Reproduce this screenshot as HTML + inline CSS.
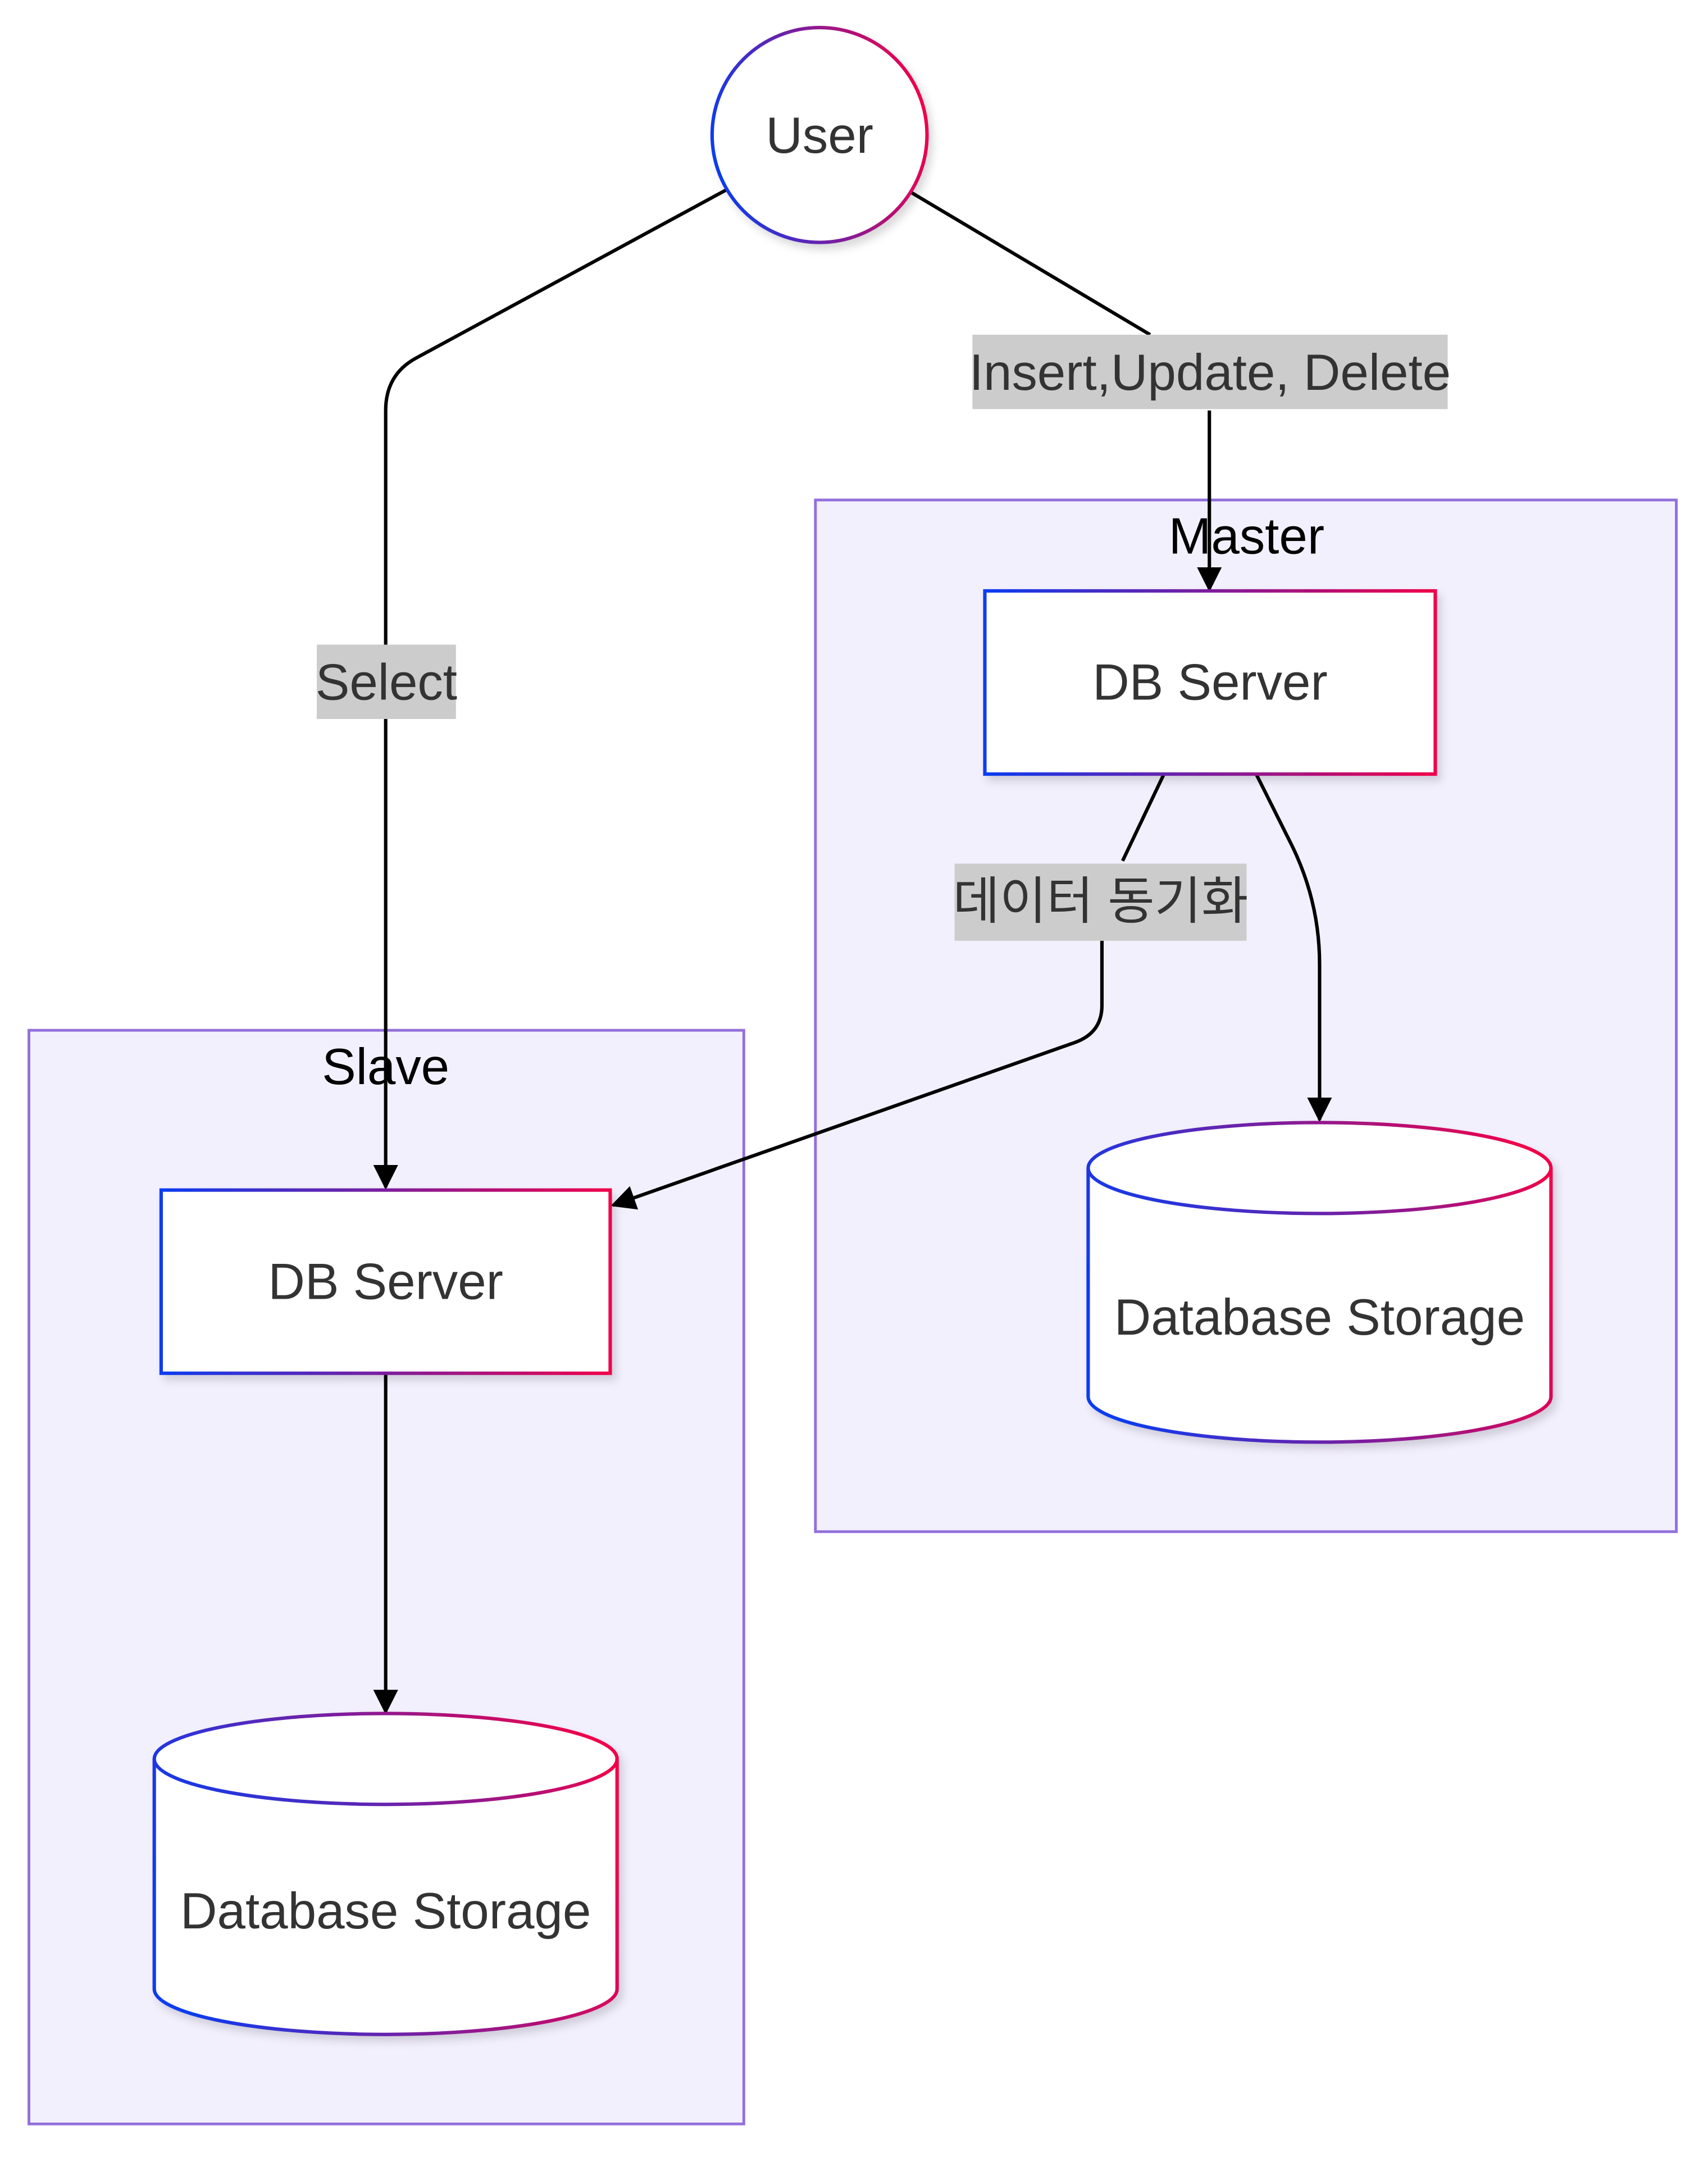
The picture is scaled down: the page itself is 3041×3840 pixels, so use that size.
<!DOCTYPE html>
<html><head><meta charset="utf-8"><style>
html,body{margin:0;padding:0;background:#fff;}
svg{display:block;}
text{font-family:"Liberation Sans","Noto Sans CJK KR",sans-serif;fill:#333;}
</style></head><body>
<svg width="3041" height="3840" viewBox="0 0 1240 1566" preserveAspectRatio="none" xmlns="http://www.w3.org/2000/svg">
<defs>
<linearGradient id="g" x1="0" y1="0.6" x2="1" y2="0.4">
<stop offset="0" stop-color="#0a3cf0"/><stop offset="1" stop-color="#f0004a"/>
</linearGradient>
<linearGradient id="gh" x1="0" y1="0" x2="1" y2="0">
<stop offset="0" stop-color="#0a3cf0"/><stop offset="1" stop-color="#f0004a"/>
</linearGradient>
<marker id="a" viewBox="0 0 10 10" refX="9" refY="5" markerWidth="18" markerHeight="18" markerUnits="userSpaceOnUse" orient="auto">
<path d="M0,0 L10,5 L0,10 z" fill="#000"/>
</marker>
<filter id="sh" x="-20%" y="-20%" width="140%" height="140%"><feDropShadow dx="3" dy="4" stdDeviation="3" flood-color="#000" flood-opacity="0.15"/></filter>
</defs>

<rect x="592" y="363" width="625" height="749" fill="#f3f0fe" stroke="#9370db" stroke-width="2"/>
<text x="905" y="402" font-size="37" text-anchor="middle" style="fill:#000">Master</text>
<rect x="21" y="748" width="519" height="794" fill="#f3f0fe" stroke="#9370db" stroke-width="2"/>
<text x="280" y="787" font-size="37" text-anchor="middle" style="fill:#000">Slave</text>

<g fill="none" stroke="#000" stroke-width="2.5">
<path d="M527,138 L302,260 Q280,272 280,298 L280,862" marker-end="url(#a)"/>
<path d="M662,140 L835,243 M878,298 L878,428" marker-end="url(#a)"/>
<path d="M912,562 L938,614 Q958,655 958,700 L958,813" marker-end="url(#a)"/>
<path d="M845,562 L815,625 M800,683 L800,730 Q800,750 780,757 L445,875" marker-end="url(#a)"/>
<path d="M280,997 L280,1243" marker-end="url(#a)"/>
</g>

<rect x="230" y="468" width="101" height="54" fill="#cccccc"/>
<text x="280.5" y="508" font-size="37" text-anchor="middle">Select</text>
<rect x="706" y="243" width="345" height="54" fill="#cccccc"/>
<text x="878.5" y="283" font-size="37" text-anchor="middle">Insert,Update, Delete</text>
<rect x="693" y="627" width="212" height="56" fill="#cccccc"/>
<text x="799" y="667" font-size="37" text-anchor="middle">데이터 동기화</text>

<circle cx="595" cy="98" r="78" fill="#fff" stroke="url(#g)" stroke-width="2.5" filter="url(#sh)"/>
<text x="595" y="111" font-size="37" text-anchor="middle">User</text>

<rect x="715" y="429" width="327" height="133" fill="#fff" stroke="url(#gh)" stroke-width="2.5" filter="url(#sh)"/>
<text x="878.5" y="508" font-size="37" text-anchor="middle">DB Server</text>
<rect x="117" y="864" width="326" height="133" fill="#fff" stroke="url(#gh)" stroke-width="2.5" filter="url(#sh)"/>
<text x="280" y="943" font-size="37" text-anchor="middle">DB Server</text>

<g filter="url(#sh)">
<path d="M790,848 A168,33 0 0 1 1126,848 L1126,1014 A168,33 0 0 1 790,1014 Z" fill="#fff" stroke="url(#g)" stroke-width="2.5"/>
<path d="M790,848 A168,33 0 0 0 1126,848" fill="none" stroke="url(#g)" stroke-width="2.5"/>
</g>
<text x="958" y="969" font-size="37" text-anchor="middle">Database Storage</text>
<g filter="url(#sh)">
<path d="M112,1277 A168,33 0 0 1 448,1277 L448,1444 A168,33 0 0 1 112,1444 Z" fill="#fff" stroke="url(#g)" stroke-width="2.5"/>
<path d="M112,1277 A168,33 0 0 0 448,1277" fill="none" stroke="url(#g)" stroke-width="2.5"/>
</g>
<text x="280" y="1400" font-size="37" text-anchor="middle">Database Storage</text>
</svg>
</body></html>
